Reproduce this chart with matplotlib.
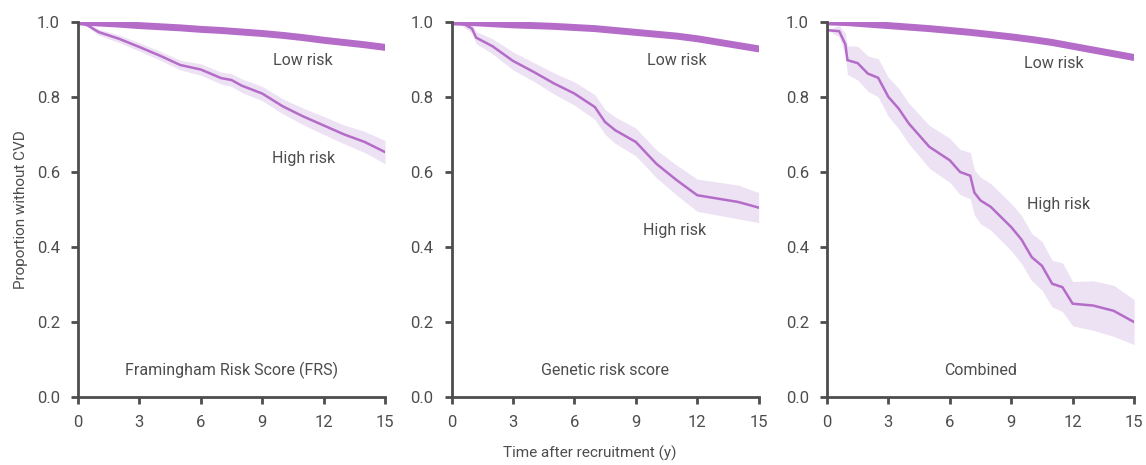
import matplotlib
matplotlib.use("Agg")
import matplotlib.pyplot as plt

plt.rcParams['font.family'] = ['Roboto', 'DejaVu Sans']

# survival curves
t_low = [0, 1, 2, 3, 4, 5, 6, 7, 8, 9, 10, 11, 12, 13, 14, 15]
frs_low = [1.0, 0.997, 0.994, 0.99, 0.987, 0.984, 0.98, 0.977, 0.973, 0.969, 0.964, 0.958, 0.951, 0.945, 0.939, 0.932]
grs_low = [1.0, 0.998, 0.995, 0.992, 0.99, 0.988, 0.985, 0.982, 0.977, 0.972, 0.967, 0.962, 0.955, 0.946, 0.937, 0.928]
comb_low = [1.0, 0.998, 0.994, 0.99, 0.986, 0.982, 0.977, 0.972, 0.966, 0.96, 0.953, 0.945, 0.935, 0.925, 0.915, 0.905]

frs_t = [0, 0.5, 1, 2, 3, 4, 5, 6, 7, 7.5, 8, 9, 10, 11, 12, 13, 14, 15]
frs_high = [1.0, 0.99, 0.973, 0.955, 0.933, 0.91, 0.885, 0.873, 0.85, 0.845, 0.83, 0.809, 0.775, 0.748, 0.724, 0.7, 0.68, 0.653]
frs_lo = [1.0, 0.985, 0.965, 0.945, 0.922, 0.898, 0.872, 0.858, 0.834, 0.828, 0.812, 0.79, 0.755, 0.726, 0.7, 0.675, 0.652, 0.622]
frs_hi = [1.0, 0.995, 0.981, 0.965, 0.944, 0.922, 0.898, 0.888, 0.866, 0.862, 0.848, 0.828, 0.795, 0.77, 0.748, 0.725, 0.708, 0.684]

grs_t = [0, 0.5, 1, 1.2, 2, 3, 4, 5, 6, 7, 7.5, 8, 9, 10, 11, 12, 13, 14, 15]
grs_high = [1.0, 0.998, 0.982, 0.958, 0.935, 0.896, 0.867, 0.836, 0.809, 0.773, 0.733, 0.711, 0.68, 0.622, 0.578, 0.538, 0.529, 0.52, 0.505]
grs_lo = [1.0, 0.99, 0.97, 0.942, 0.915, 0.872, 0.842, 0.808, 0.778, 0.74, 0.7, 0.676, 0.643, 0.585, 0.538, 0.495, 0.485, 0.475, 0.465]
grs_hi = [1.0, 1.0, 0.993, 0.974, 0.955, 0.92, 0.892, 0.864, 0.84, 0.806, 0.766, 0.746, 0.717, 0.659, 0.618, 0.581, 0.573, 0.565, 0.545]

comb_t = [0, 0.6, 0.9, 1, 1.5, 2, 2.5, 3, 3.5, 4, 5, 6, 6.5, 7, 7.2, 7.5, 8, 9, 9.5, 10, 10.5, 11, 11.5, 12, 13, 14, 15]
comb_high = [0.978, 0.975, 0.94, 0.898, 0.89, 0.862, 0.851, 0.8, 0.769, 0.729, 0.667, 0.631, 0.6, 0.59, 0.545, 0.524, 0.507, 0.453, 0.42, 0.373, 0.35, 0.302, 0.293, 0.249, 0.244, 0.23, 0.2]
comb_lo = [0.978, 0.96, 0.91, 0.86, 0.845, 0.815, 0.8, 0.748, 0.715, 0.675, 0.61, 0.572, 0.54, 0.528, 0.485, 0.462, 0.445, 0.39, 0.356, 0.31, 0.285, 0.24, 0.228, 0.19, 0.178, 0.162, 0.14]
comb_hi = [0.978, 0.99, 0.97, 0.936, 0.935, 0.909, 0.902, 0.852, 0.823, 0.783, 0.724, 0.69, 0.66, 0.652, 0.605, 0.586, 0.569, 0.516, 0.484, 0.436, 0.415, 0.364, 0.358, 0.308, 0.31, 0.298, 0.26]

titles = ["Framingham Risk Score (FRS)", "Genetic risk score", "Combined"]
xticks = [0, 3, 6, 9, 12, 15]
yticks = [0.0, 0.2, 0.4, 0.6, 0.8, 1.0]

panels = [
    (frs_low, frs_t, frs_high, frs_lo, frs_hi, (11.0, 0.898), (11.0, 0.636)),
    (grs_low, grs_t, grs_high, grs_lo, grs_hi, (11.0, 0.898), (10.9, 0.445)),
    (comb_low, comb_t, comb_high, comb_lo, comb_hi, (11.1, 0.888), (11.3, 0.512)),
]

purple = '#b46cc8'
band = '#e2cdee'
grey = '#4d4d4d'

fig = plt.figure(figsize=(11.46, 4.65), dpi=100)
lefts = [0.068, 0.394, 0.7216]

for i, (low, ht, high, lo, hi, lowpos, highpos) in enumerate(panels):
    ax = fig.add_axes([lefts[i], 0.146, 0.268, 0.807])
    ax.fill_between(ht, lo, hi, color=band, alpha=0.6, lw=0)
    ax.plot(ht, high, color=purple, lw=1.8)
    ax.plot(t_low, low, color=purple, lw=5, solid_capstyle='round')
    ax.text(lowpos[0], lowpos[1], "Low risk", ha='center', va='center', fontsize=11.5, color=grey)
    ax.text(highpos[0], highpos[1], "High risk", ha='center', va='center', fontsize=11.5, color=grey)
    ax.text(7.5, 0.072, titles[i], ha='center', va='center', fontsize=11.5, color=grey)
    ax.set_xlim(0, 15)
    ax.set_ylim(0, 1.0)
    ax.set_xticks(xticks)
    ax.set_yticks(yticks)
    ax.set_yticklabels([f"{v:.1f}" for v in yticks])
    for s in ['top', 'right']:
        ax.spines[s].set_visible(False)
    for s in ['left', 'bottom']:
        ax.spines[s].set_color(grey)
        ax.spines[s].set_linewidth(2)
    ax.tick_params(colors=grey, width=2, length=5, labelsize=12, pad=8)
    if i == 0:
        ax.set_ylabel("Proportion without CVD", fontsize=11, color=grey, labelpad=6)

fig.text(0.515, 0.025, "Time after recruitment (y)", ha='center', va='center', fontsize=11, color=grey)

fig.savefig("out.png", dpi=100)
